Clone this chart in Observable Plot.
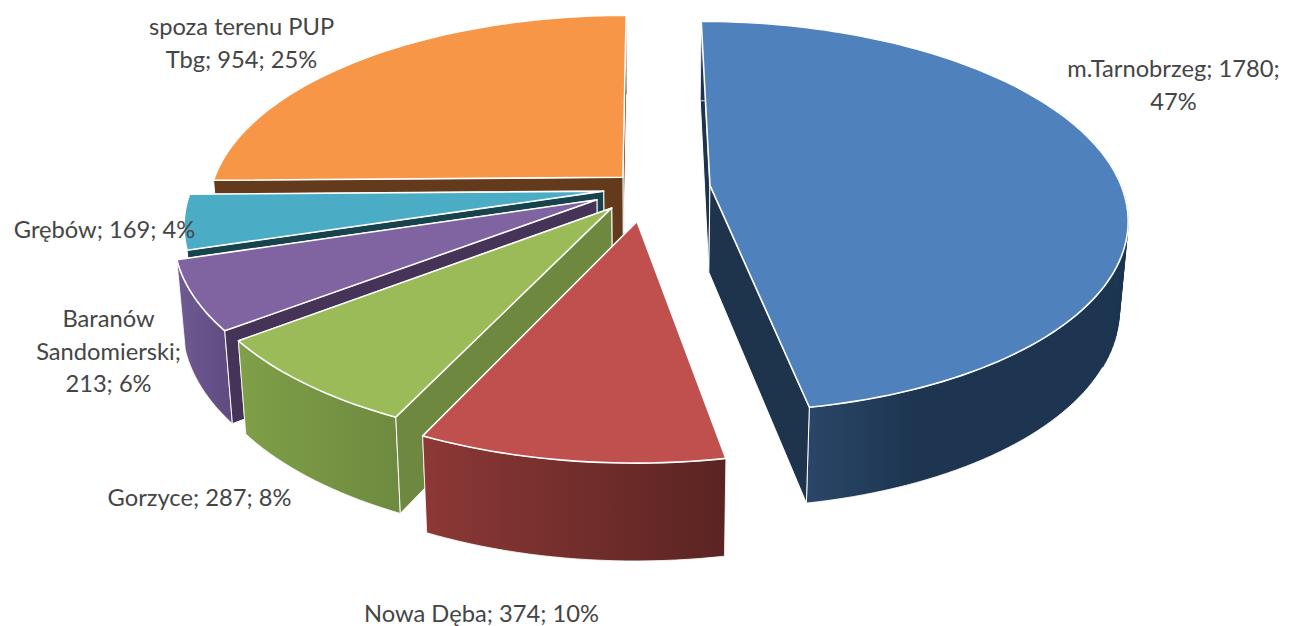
<!DOCTYPE html>
<html><head><meta charset="utf-8">
<style>html,body{margin:0;padding:0;background:#fff}svg{display:block}</style>
<script src="https://cdn.jsdelivr.net/npm/d3@7"></script>
<script src="https://cdn.jsdelivr.net/npm/@observablehq/plot@0.6"></script>
</head><body><div id="chart"></div>
<script>
// --- data
const names  = ["m.Tarnobrzeg","Nowa Dęba","Gorzyce","Baranów Sandomierski","Grębów","spoza terenu PUP Tbg"];
const values = [1780,374,287,213,169,954];
const percents = [47,10,8,6,4,25];
const labelBreaks = [
  "m.Tarnobrzeg; 1780;\n47%",
  "Nowa Dęba; 374; 10%",
  "Gorzyce; 287; 8%",
  "Baranów\nSandomierski;\n213; 6%",
  "Grębów; 169; 4%",
  "spoza terenu PUP\nTbg; 954; 25%"
];
// --- styling / layout (separate from data)
const explode = [.155,.172,.132,.134,.105,.081];
const topCol  = ["#4f81bd","#c0504d","#9bbb59","#8064a2","#4bacc6","#f79646"];
const sideCol = ["#1e344d","#5a2422","#6f8840","#463358","#17434f","#633a1c"];
const wallStops = [
  [[0,"#1e344d"],[.25,"#2a4668"],[.5,"#1d3550"],[1,"#1d3550"]],
  [[0,"#8c3836"],[1,"#5a2422"]],
  [[0,"#7f9f48"],[1,"#6e8a3f"]],
  [[0,"#6f5a92"],[1,"#5f4b80"]],
  [[0,"#1d5566"],[1,"#17434f"]],
  [[0,"#633a1c"],[1,"#633a1c"]]
];
const labelX = [1173,481,199,108,104,241];
const labelY = [82,611,494.5,348.5,226.5,40];
const drawOrder = [0,5,4,3,2,1];
const W=1289,H=626, cx=646, cy=187.5, R=412, S=191, k=.16, k2=.095, depth=87, shrink=.982;

// --- geometry from values
const total = d3.sum(values);
let acc = 0;
const slices = values.map((v,i)=>{
  const a0 = acc/total*2*Math.PI; acc += v;
  const a1 = acc/total*2*Math.PI;
  return {i,a0,a1,am:(a0+a1)/2,d:explode[i]};
});
function disc(s,r,a){
  return {u:r*Math.sin(a)+s.d*Math.sin(s.am), v:-r*Math.cos(a)-s.d*Math.cos(s.am), a};
}
function upper(p){ const w=1-k*p.v; return {x:cx+R*p.u/w, y:cy+S*p.v/w}; }
function lower(p){ const t=upper(p); return {x:cx+(t.x-cx)*shrink, y:t.y+depth/(1-k2*p.v)}; }
function arc(s){
  const n=Math.max(6,Math.round((s.a1-s.a0)*40));
  return d3.range(n+1).map(j=>disc(s,1,s.a0+(s.a1-s.a0)*j/n));
}
const closed = a => [...a,a[0]];
function poly(pts,fill,stroke,sw){
  return Plot.line(closed(pts),{x:"x",y:"y",fill,stroke,strokeWidth:sw,curve:"linear",strokeLinejoin:"round"});
}
const marks=[];
// gradient definitions
marks.push(()=>{
  const defs=d3.create("svg:defs");
  wallStops.forEach((st,i)=>{
    const g=defs.append("linearGradient").attr("id","wall"+i).attr("x1",0).attr("x2",1).attr("y1",0).attr("y2",0);
    st.forEach(([o,c])=>g.append("stop").attr("offset",o).attr("stop-color",c));
  });
  return defs.node();
});
for(const i of drawOrder){
  const s=slices[i], rim=arc(s), apex=disc(s,0,0);
  const wall=(p,q)=>[upper(p),upper(q),lower(q),lower(p)];
  const first=rim[0], last=rim[rim.length-1];
  const pair = i===0 ? [first,last] : [last,first];
  const outer = poly([...rim.map(upper),...rim.slice().reverse().map(lower)],`url(#wall${i})`,i===5?"none":"#fff",.8);
  marks.push(poly(wall(apex,pair[0]),sideCol[i],"#fff",1));
  if(i===1){
    // both radial walls of the front slice turn away from the viewer
    marks.push(poly(wall(apex,pair[1]),sideCol[i],"#fff",1));
    marks.push(outer);
  } else {
    marks.push(outer);
    marks.push(poly(wall(apex,pair[1]),sideCol[i],"#fff",1));
  }
  // silhouette filler at the right extreme of the disc
  d3.pairs(rim).forEach(([p,q])=>{
    const sn=Math.sin((p.a+q.a)/2);
    if(Math.abs(sn)>.9 && i===0){
      const c=wallStops[i][wallStops[i].length-1][1];
      marks.push(poly(wall(p,q),c,c,.6));
    }
  });
  // top face
  marks.push(poly([upper(apex),...rim.map(upper)],topCol[i],"#fff",1.6));
}
marks.push(Plot.text(labelBreaks,{
  x:(d,i)=>labelX[i], y:(d,i)=>labelY[i], text:d=>d,
  fontSize:23.7, lineHeight:1.39, fontFamily:"Lato, 'Open Sans', sans-serif", fill:"#454545", textAnchor:"middle", lineAnchor:"middle"
}));
document.getElementById("chart").append(Plot.plot({
  width:W,height:H,margin:0,
  x:{domain:[0,W],range:[0,W],axis:null},
  y:{domain:[0,H],range:[0,H],axis:null},
  style:{background:"#fff"},
  marks
}));
</script></body></html>
